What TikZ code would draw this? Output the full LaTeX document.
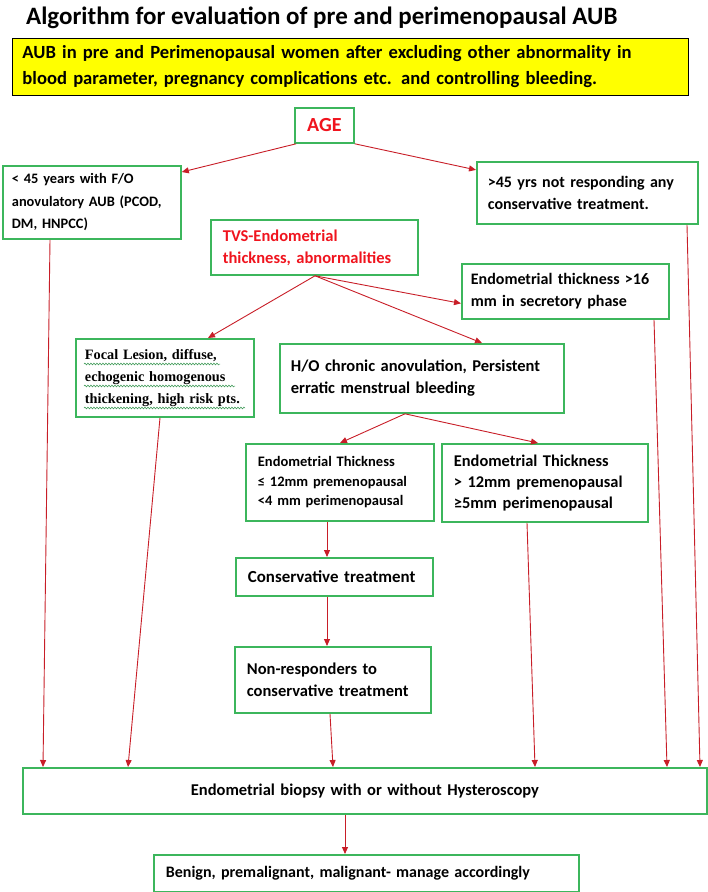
\documentclass[tikz,border=0pt]{standalone}
\usepackage{fontspec}
\setmainfont{Carlito}
\newfontfamily\serifb{Liberation Serif}
\usetikzlibrary{arrows.meta,decorations.pathmorphing}
\definecolor{bgreen}{RGB}{60,182,92}
\definecolor{lred}{RGB}{200,30,40}
\definecolor{tred}{RGB}{240,20,30}
\definecolor{yfill}{RGB}{255,255,0}
\begin{document}
\begin{tikzpicture}[x=1pt,y=-1pt,
  box/.style={draw=bgreen,line width=1.8pt,fill=white,anchor=north west,align=left,inner xsep=11pt,inner ysep=2pt,font=\bfseries\fontsize{16.5}{22}\selectfont},
  arr/.style={draw=lred,line width=0.9pt,-{Triangle[length=7pt,width=6pt]}},
  squig/.style={draw=bgreen!80!black,line width=0.5pt,decorate,decoration={snake,amplitude=0.9pt,segment length=3pt}}]
\useasboundingbox (0,0) rectangle (708,892);
\node[anchor=west,font=\bfseries\fontsize{25}{28}\selectfont,inner sep=0pt] (title) at (26,18) {Algorithm for evaluation of pre and perimenopausal AUB};
\node[box,draw=black,line width=1pt,fill=yfill,minimum width=676pt,text width=656pt,inner xsep=10pt,minimum height=57pt,font=\bfseries\fontsize{18.6}{26}\selectfont] (yel) at (12,38)
 {AUB in pre and Perimenopausal women after excluding other abnormality in\\ blood parameter, pregnancy complications etc. and controlling bleeding.};
\node[box,minimum width=59pt,text width=45pt,inner xsep=7pt,minimum height=35pt,align=center,text=tred,font=\bfseries\fontsize{20}{22}\selectfont] (age) at (294,107) {AGE};
\node[box,minimum width=178pt,text width=160pt,inner xsep=9pt,minimum height=73pt,font=\bfseries\fontsize{14.4}{22.5}\selectfont] (lt) at (2,165) {< 45 years with F/O\\ anovulatory AUB (PCOD,\\ DM, HNPCC)};
\node[box,minimum width=221pt,text width=199pt,minimum height=62pt,font=\bfseries\fontsize{16}{22}\selectfont] (rt) at (476,161) {>45 yrs not responding any\\ conservative treatment.};
\node[box,minimum width=207pt,text width=183pt,inner xsep=12pt,minimum height=55pt,text=tred] (tvs) at (210,219) {TVS-Endometrial\\ thickness, abnormalities};
\node[box,minimum width=207pt,text width=189pt,inner xsep=9pt,minimum height=55pt,font=\bfseries\fontsize{16}{22}\selectfont] (e16) at (461,263) {Endometrial thickness >16\\ mm in secretory phase};
\node[box,minimum width=178pt,text width=160pt,inner xsep=9pt,minimum height=78pt,font=\serifb\bfseries\fontsize{14.3}{22}\selectfont] (foc) at (75,338) {Focal Lesion, diffuse,\\ echogenic homogenous\\ thickening, high risk pts.};
\node[box,minimum width=284pt,text width=262pt,minimum height=69pt] (ho) at (279,343) {\makebox[262pt][s]{H/O chronic anovulation, Persistent}\\ erratic menstrual bleeding};
\node[box,minimum width=188pt,text width=164pt,inner xsep=12pt,minimum height=77pt,font=\bfseries\fontsize{14.5}{19.5}\selectfont] (e12a) at (245,443) {Endometrial Thickness\\ ≤ 12mm premenopausal\\ <4 mm perimenopausal};
\node[box,minimum width=206pt,text width=182pt,inner xsep=12pt,minimum height=78pt,font=\bfseries\fontsize{16.4}{21}\selectfont] (e12b) at (441,443) {Endometrial Thickness\\ > 12mm premenopausal\\ ≥5mm perimenopausal};
\node[box,minimum width=197pt,text width=173pt,inner xsep=12pt,minimum height=38pt,font=\bfseries\fontsize{16.9}{22}\selectfont] (cons) at (235,557) {Conservative treatment};
\node[box,minimum width=196pt,text width=172pt,inner xsep=12pt,minimum height=66pt] (nonr) at (234,646) {Non-responders to\\ conservative treatment};
\node[box,minimum width=684pt,text width=664pt,inner xsep=10pt,minimum height=46pt,align=center] (bio) at (22,767) {Endometrial biopsy with or without Hysteroscopy};
\node[box,minimum width=425pt,text width=401pt,inner xsep=12pt,minimum height=37pt,font=\bfseries\fontsize{16}{22}\selectfont] (ben) at (153,854) {Benign, premalignant, malignant- manage accordingly};
% spell-check squiggles
\draw[squig] ([xshift=9pt,yshift=-26pt]foc.north west) -- ([xshift=145pt,yshift=-26pt]foc.north west);
\draw[squig] ([xshift=9pt,yshift=-48pt]foc.north west) -- ([xshift=160pt,yshift=-48pt]foc.north west);
\draw[squig] ([xshift=9pt,yshift=-70pt]foc.north west) -- ([xshift=170pt,yshift=-70pt]foc.north west);
% arrows
\draw[arr] ([xshift=2pt]age.south west) -- ([yshift=-7pt]lt.north east);
\draw[arr] (age.south east) -- ([yshift=23pt]rt.west);
\draw[arr] ([xshift=48pt]lt.south west) -- ([xshift=21pt]bio.north west);
\draw[arr] ([xshift=105pt]tvs.south west) -- ([xshift=133pt]foc.north west);
\draw[arr] ([xshift=105pt]tvs.south west) -- ([xshift=203pt]ho.north west);
\draw[arr] ([xshift=105pt]tvs.south west) -- ([yshift=-12pt]e16.west);
\draw[arr] ([xshift=85pt]foc.south west) -- ([xshift=106pt]bio.north west);
\draw[arr] ([xshift=126pt]ho.south west) -- ([xshift=95pt]e12a.north west);
\draw[arr] ([xshift=126pt]ho.south west) -- ([xshift=97pt]e12b.north west);
\draw[arr] ([xshift=82pt]e12a.south west) -- ([xshift=92pt]cons.north west);
\draw[arr] ([xshift=92pt]cons.south west) -- ([xshift=93pt]nonr.north west);
\draw[arr] ([xshift=96pt]nonr.south west) -- ([xshift=311pt]bio.north west);
\draw[arr] ([xshift=86pt]e12b.south west) -- ([xshift=513pt]bio.north west);
\draw[arr] ([xshift=193pt]e16.south west) -- ([xshift=645pt]bio.north west);
\draw[arr] ([xshift=211pt]rt.south west) -- ([xshift=678pt]bio.north west);
\draw[arr] ([xshift=323pt]bio.south west) -- ([xshift=192pt]ben.north west);
\end{tikzpicture}
\end{document}
